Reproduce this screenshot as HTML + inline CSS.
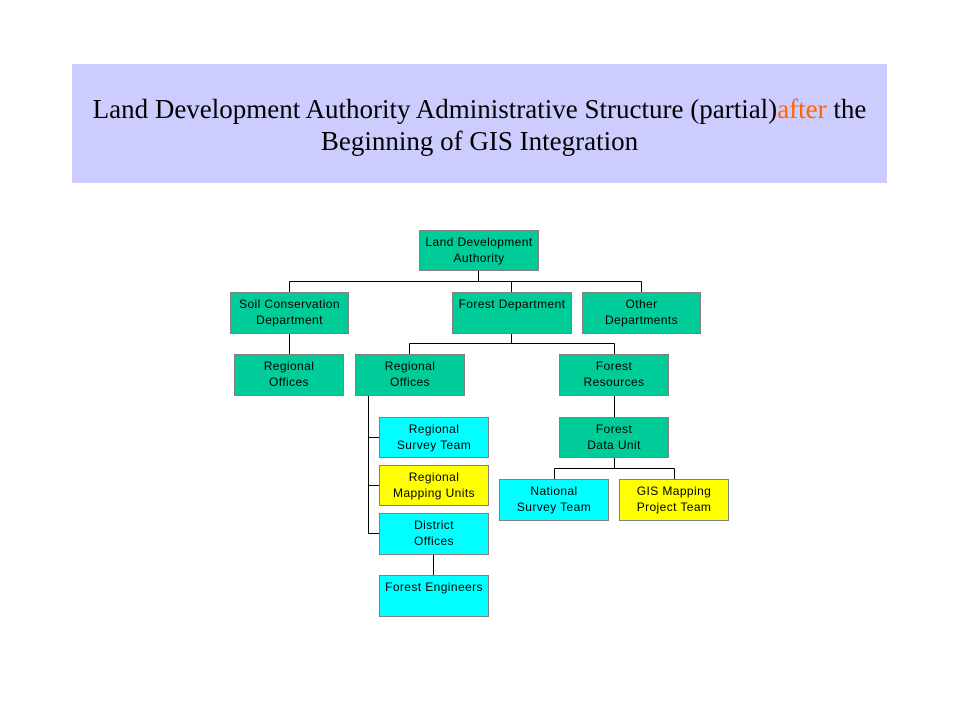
<!DOCTYPE html>
<html><head><style>
body{margin:0;width:959px;height:719px;background:#fff;position:relative;overflow:hidden}
.t{position:absolute;left:72px;top:64px;width:815px;height:119px;background:#ccccff;font-family:"Liberation Serif",serif;font-size:27px;text-align:center;color:#000}
.t div{position:absolute;left:0;width:815px;white-space:nowrap}
.b{position:absolute;box-sizing:border-box;border:1px solid #808080;background:#00cc99;font-family:"Liberation Sans",sans-serif;font-size:12px;line-height:16px;text-align:center;padding-top:3px;letter-spacing:0.4px;color:#000}
.c{background:#00ffff}.y{background:#ffff00}
svg{position:absolute;left:0;top:0}
</style></head><body>
<div class="t"><div style="top:30px">Land Development Authority Administrative Structure (partial)<span style="color:#ff6600">after</span> the</div><div style="top:62px">Beginning of GIS Integration</div></div>
<svg width="959" height="719"><g stroke="#000" stroke-width="1" fill="none">
<path d="M478.5 270V281.5M289.5 281.5H641.5M289.5 281.5V292M511.5 281.5V292M641.5 281.5V292"/>
<path d="M289.5 333V354"/>
<path d="M511.5 333V343.5M409.5 343.5H614.5M409.5 343.5V354M614.5 343.5V354"/>
<path d="M368.5 395V533.5M368.5 437.5H379M368.5 485.5H379M368.5 533.5H379"/>
<path d="M433.5 554V575"/>
<path d="M614.5 395V417M614.5 457V468.5M554.5 468.5H674.5M554.5 468.5V479M674.5 468.5V479"/>
</g></svg>
<div class="b" style="left:419px;top:230px;width:120px;height:41px">Land Development<br>Authority</div>
<div class="b" style="left:230px;top:292px;width:119px;height:42px">Soil Conservation<br>Department</div>
<div class="b" style="left:452px;top:292px;width:120px;height:42px">Forest Department</div>
<div class="b" style="left:582px;top:292px;width:119px;height:42px">Other<br>Departments</div>
<div class="b" style="left:234px;top:354px;width:110px;height:42px">Regional<br>Offices</div>
<div class="b" style="left:355px;top:354px;width:110px;height:42px">Regional<br>Offices</div>
<div class="b" style="left:559px;top:354px;width:110px;height:42px">Forest<br>Resources</div>
<div class="b c" style="left:379px;top:417px;width:110px;height:41px">Regional<br>Survey Team</div>
<div class="b" style="left:559px;top:417px;width:110px;height:41px">Forest<br>Data Unit</div>
<div class="b y" style="left:379px;top:465px;width:110px;height:41px">Regional<br>Mapping Units</div>
<div class="b c" style="left:499px;top:479px;width:110px;height:42px">National<br>Survey Team</div>
<div class="b y" style="left:619px;top:479px;width:110px;height:42px">GIS Mapping<br>Project Team</div>
<div class="b c" style="left:379px;top:513px;width:110px;height:42px">District<br>Offices</div>
<div class="b c" style="left:379px;top:575px;width:110px;height:42px">Forest Engineers</div>
</body></html>
